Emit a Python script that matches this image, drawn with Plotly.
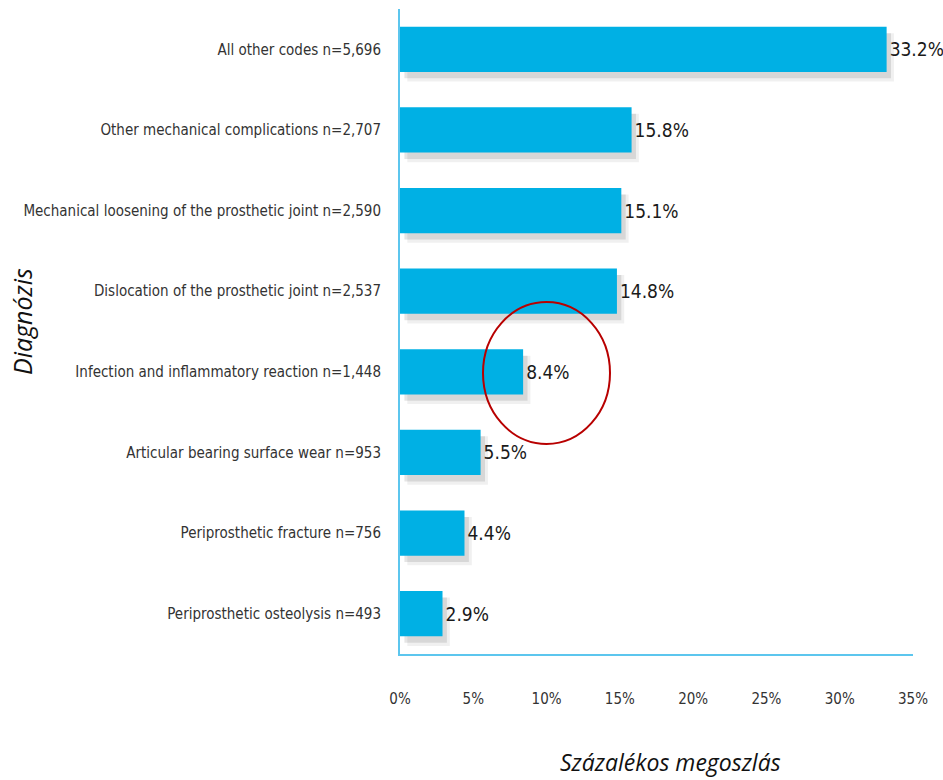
import plotly.graph_objects as go

categories = [
    "All other codes n=5,696",
    "Other mechanical complications n=2,707",
    "Mechanical loosening of the prosthetic joint n=2,590",
    "Dislocation of the prosthetic joint n=2,537",
    "Infection and inflammatory reaction n=1,448",
    "Articular bearing surface wear n=953",
    "Periprosthetic fracture n=756",
    "Periprosthetic osteolysis n=493",
]
values = [33.2, 15.8, 15.1, 14.8, 8.4, 5.5, 4.4, 2.9]
tick_vals = [0, 5, 10, 15, 20, 25, 30, 35]
tick_text = ["0%", "5%", "10%", "15%", "20%", "25%", "30%", "35%"]
value_labels = [f"{v:.1f}%" for v in values]

NARROW = "Liberation Sans Narrow, DejaVu Sans Condensed, Arial Narrow, sans-serif"
BAR = "#00B0E4"
AXIS = "#5CC6EE"

W, H = 943, 780
L, R, T, B = 400, 30, 9, 126
PW = W - L - R
PH = H - T - B

def px_x(x_abs):
    return (x_abs - L) / PW

def px_y(y_abs):
    return (H - B - y_abs) / PH

fig = go.Figure()
# soft drop shadow (two layers for a slight blur)
fig.add_trace(go.Bar(
    y=categories, x=values, orientation="h", base=0.5,
    width=0.6, offset=-0.2,
    marker=dict(color="rgba(0,0,0,0.06)", line=dict(width=0)),
    hoverinfo="skip", showlegend=False,
))
fig.add_trace(go.Bar(
    y=categories, x=values, orientation="h", base=0.3,
    width=0.56, offset=-0.2,
    marker=dict(color="rgba(0,0,0,0.10)", line=dict(width=0)),
    hoverinfo="skip", showlegend=False,
))
fig.add_trace(go.Bar(
    y=categories, x=values, orientation="h",
    width=0.56, offset=-0.28,
    marker=dict(color=BAR, line=dict(width=0)),
    text=value_labels, textposition="outside", cliponaxis=False,
    textfont=dict(family=NARROW, size=19, color="#1a1a1a"),
    showlegend=False,
))

fig.update_layout(
    width=W, height=H,
    margin=dict(l=L, r=R, t=T, b=B),
    paper_bgcolor="white", plot_bgcolor="white",
    barmode="overlay",
    xaxis=dict(
        range=[0, 35], tickvals=tick_vals, ticktext=tick_text,
        showgrid=False, zeroline=False, automargin=False,
        showline=True, linecolor=AXIS, linewidth=2,
        ticks="", ticklabelstandoff=30,
        tickfont=dict(family=NARROW, size=15, color="#333333"),
    ),
    yaxis=dict(
        categoryorder="array", categoryarray=categories,
        autorange="reversed", automargin=False,
        showgrid=False, zeroline=False,
        showline=True, linecolor=AXIS, linewidth=2,
        ticks="", ticklabelstandoff=14,
        tickfont=dict(family=NARROW, size=15, color="#333333"),
    ),
    annotations=[
        dict(text="<i>Diagnózis</i>", xref="paper", yref="paper",
             x=px_x(22), y=px_y(322), textangle=-90,
             xanchor="center", yanchor="middle", showarrow=False,
             font=dict(family="Open Sans, sans-serif", size=25, color="#111111")),
        dict(text="<i>Százalékos megoszlás</i>", xref="paper", yref="paper",
             x=px_x(670), y=px_y(762),
             xanchor="center", yanchor="middle", showarrow=False,
             font=dict(family="Open Sans, sans-serif", size=23, color="#111111")),
    ],
    shapes=[
        dict(type="circle", xref="paper", yref="paper",
             x0=px_x(483), x1=px_x(610),
             y0=px_y(444), y1=px_y(302),
             line=dict(color="#B80000", width=2)),
    ],
)

fig.write_html(
    "out.html",
    config={"displayModeBar": False},
    post_script="document.body.style.margin='0';document.body.style.overflow='hidden';",
)
